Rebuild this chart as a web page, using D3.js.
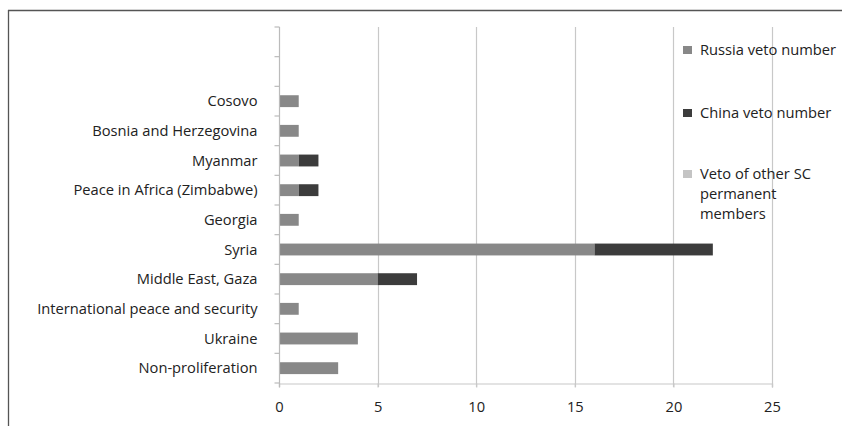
<!DOCTYPE html>
<html>
<head>
<meta charset="utf-8">
<script src="https://cdn.jsdelivr.net/npm/d3@7/dist/d3.min.js"></script>
<style>
  html, body { margin: 0; padding: 0; background: #fff; }
  svg { display: block; }
  text { font-family: "Open Sans", "Noto Sans", sans-serif; fill: #222; }
</style>
</head>
<body>
<svg id="chart" width="842" height="426"></svg>
<script>
// Categories listed top to bottom; the two leading blanks are empty rows in the chart.
const categories = ["", " ", "Cosovo", "Bosnia and Herzegovina", "Myanmar",
  "Peace in Africa (Zimbabwe)", "Georgia", "Syria", "Middle East, Gaza",
  "International peace and security", "Ukraine", "Non-proliferation"];
const russiaVetoes = [0, 0, 1, 1, 1, 1, 1, 16, 5, 1, 4, 3];
const chinaVetoes  = [0, 0, 0, 0, 1, 1, 0, 6, 2, 0, 0, 0];
const otherVetoes  = [0, 0, 0, 0, 0, 0, 0, 0, 0, 0, 0, 0];
const seriesNames = ["Russia veto number", "China veto number", "Veto of other SC permanent members"];
const xTicks = [0, 5, 10, 15, 20, 25];

const colors = ["#888888", "#3c3c3c", "#c4c4c4"];
const fontSize = "14.7px";

const svg = d3.select("#chart");

// frame lines (top and left)
svg.append("line").attr("x1", 8).attr("x2", 842).attr("y1", 10.5).attr("y2", 10.5)
  .attr("stroke", "#555").attr("stroke-width", 1.3);
svg.append("line").attr("x1", 8.5).attr("x2", 8.5).attr("y1", 10).attr("y2", 426)
  .attr("stroke", "#555").attr("stroke-width", 1.3);

const plot = { left: 279, right: 772, top: 27, bottom: 383 };

const x = d3.scaleLinear().domain([0, 25]).range([plot.left, plot.right]);
const y = d3.scaleBand().domain(categories).range([plot.top, plot.bottom]).paddingInner(0.6).paddingOuter(0.3);

// vertical gridlines
svg.append("g").selectAll("line").data(xTicks.filter(d => d > 0)).join("line")
  .attr("x1", d => Math.round(x(d)) + 0.5).attr("x2", d => Math.round(x(d)) + 0.5)
  .attr("y1", plot.top).attr("y2", plot.bottom + 4)
  .attr("stroke", "#c8c8c8").attr("stroke-width", 1.2);

// stacked bars
const table = categories.map((c, i) => ({ cat: c, russia: russiaVetoes[i], china: chinaVetoes[i], other: otherVetoes[i] }));
const stack = d3.stack().keys(["russia", "china", "other"])(table);

svg.append("g").selectAll("g").data(stack).join("g")
  .attr("fill", (d, i) => colors[i])
  .selectAll("rect").data(d => d).join("rect")
  .attr("x", d => x(d[0]))
  .attr("width", d => x(d[1]) - x(d[0]))
  .attr("y", d => y(d.data.cat))
  .attr("height", y.bandwidth());

// x axis
const xAxis = svg.append("g").attr("transform", `translate(0,${plot.bottom + 0.5})`)
  .call(d3.axisBottom(x).tickValues(xTicks).tickSize(4).tickPadding(14));
xAxis.select(".domain").attr("stroke", "#c8c8c8").attr("stroke-width", 1.2);
xAxis.selectAll(".tick line").attr("stroke", "#c8c8c8").attr("stroke-width", 1.2);
xAxis.selectAll("text").style("font-size", fontSize).attr("fill", "#222");

// y axis: ticks mark category boundaries
const yAxisG = svg.append("g").attr("transform", `translate(${plot.left + 0.5},0)`);
yAxisG.append("line").attr("y1", plot.top).attr("y2", plot.bottom + 4)
  .attr("stroke", "#bbbbbb").attr("stroke-width", 1.2);
const boundaries = d3.range(categories.length + 1).map(i => plot.top + i * (plot.bottom - plot.top) / categories.length);
yAxisG.selectAll(".bt").data(boundaries).join("line").attr("class", "bt")
  .attr("x1", -5).attr("x2", 0).attr("y1", d => d).attr("y2", d => d)
  .attr("stroke", "#bbbbbb").attr("stroke-width", 1.2);
yAxisG.selectAll("text").data(categories).join("text")
  .attr("x", -22).attr("y", d => y(d) + y.bandwidth() / 2)
  .attr("dy", "0.35em").attr("text-anchor", "end")
  .style("font-size", fontSize).text(d => d.trim());

// legend
const legendRows = [
  { lines: ["Russia veto number"], y: 50 },
  { lines: ["China veto number"], y: 113 },
  { lines: ["Veto of other SC", "permanent", "members"], y: 174 }
];
const legend = svg.append("g");
legendRows.forEach((r, i) => {
  legend.append("rect").attr("x", 683).attr("y", r.y - 4).attr("width", 9).attr("height", 8).attr("fill", colors[i]);
  const t = legend.append("text").attr("x", 700).attr("y", r.y).style("font-size", fontSize);
  r.lines.forEach((ln, j) => t.append("tspan").attr("x", 700).attr("dy", j === 0 ? "0.35em" : "20px").text(ln));
});
</script>
</body>
</html>
